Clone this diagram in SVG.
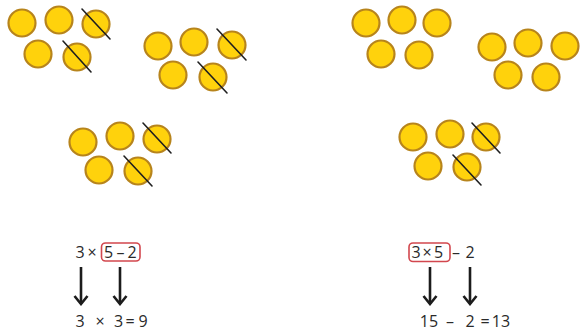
<svg xmlns="http://www.w3.org/2000/svg" width="586" height="334" viewBox="0 0 586 334">
<style>
.coin{fill:#FFD20C;stroke:#B7841C;stroke-width:2.2}
.cross{stroke:#1f1f1f;stroke-width:1.6;stroke-linecap:round}
.t{font-family:"Open Sans","Liberation Sans",sans-serif;font-size:16px;fill:#2a2a2a;text-anchor:middle}
.box{fill:none;stroke:#D2474E;stroke-width:1.6}
.arrow{stroke:#1c1c1c;stroke-width:2.6;fill:none;marker-end:url(#head)}
</style>
<defs>
<marker id="head" markerUnits="userSpaceOnUse" viewBox="-10 -8 12 16" refX="0" refY="0" markerWidth="12" markerHeight="16" orient="auto">
<path d="M-8,-6.5 L0,0 L-8,6.5" fill="none" stroke="#1c1c1c" stroke-width="2.6" stroke-linejoin="miter"/>
</marker>
</defs>
<rect width="586" height="334" fill="#ffffff"/>

<g id="group1">
<circle class="coin" cx="22" cy="23" r="13.5"/>
<circle class="coin" cx="59" cy="20" r="13.5"/>
<circle class="coin" cx="96" cy="24" r="13.5"/>
<circle class="coin" cx="38" cy="54" r="13.5"/>
<circle class="coin" cx="77" cy="57" r="13.5"/>
<line class="cross" x1="82" y1="9" x2="110" y2="39"/>
<line class="cross" x1="63" y1="41" x2="91" y2="72"/>
</g>
<g id="group2">
<circle class="coin" cx="158" cy="46" r="13.5"/>
<circle class="coin" cx="194" cy="42" r="13.5"/>
<circle class="coin" cx="232" cy="45" r="13.5"/>
<circle class="coin" cx="173" cy="75" r="13.5"/>
<circle class="coin" cx="213" cy="77" r="13.5"/>
<line class="cross" x1="217" y1="29" x2="246" y2="60"/>
<line class="cross" x1="198" y1="62" x2="227" y2="93"/>
</g>
<g id="group3">
<circle class="coin" cx="83" cy="142" r="13.5"/>
<circle class="coin" cx="120" cy="136" r="13.5"/>
<circle class="coin" cx="157" cy="139" r="13.5"/>
<circle class="coin" cx="99" cy="170" r="13.5"/>
<circle class="coin" cx="138" cy="171" r="13.5"/>
<line class="cross" x1="143" y1="123" x2="171" y2="153"/>
<line class="cross" x1="124" y1="156" x2="152" y2="186"/>
</g>
<g id="group4">
<circle class="coin" cx="366" cy="23" r="13.5"/>
<circle class="coin" cx="402" cy="20" r="13.5"/>
<circle class="coin" cx="437" cy="23" r="13.5"/>
<circle class="coin" cx="381" cy="54" r="13.5"/>
<circle class="coin" cx="419" cy="55" r="13.5"/>
</g>
<g id="group5">
<circle class="coin" cx="492" cy="47" r="13.5"/>
<circle class="coin" cx="528" cy="43" r="13.5"/>
<circle class="coin" cx="565" cy="46" r="13.5"/>
<circle class="coin" cx="508" cy="75" r="13.5"/>
<circle class="coin" cx="546" cy="77" r="13.5"/>
</g>
<g id="group6">
<circle class="coin" cx="413" cy="137" r="13.5"/>
<circle class="coin" cx="450" cy="134" r="13.5"/>
<circle class="coin" cx="486" cy="137" r="13.5"/>
<circle class="coin" cx="428" cy="166" r="13.5"/>
<circle class="coin" cx="467" cy="167" r="13.5"/>
<line class="cross" x1="472" y1="123" x2="500" y2="153"/>
<line class="cross" x1="453" y1="155" x2="481" y2="185"/>
</g>

<g id="expr-left">
<rect class="box" x="101.5" y="243" width="38.5" height="18" rx="4"/>
<text class="t" y="258"><tspan x="80">3</tspan><tspan x="92">×</tspan><tspan x="108.5">5</tspan><tspan x="120.5">–</tspan><tspan x="132">2</tspan></text>
</g>
<g id="result-left">
<text class="t" y="327"><tspan x="80">3</tspan><tspan x="100">×</tspan><tspan x="118.5">3</tspan><tspan x="130">=</tspan><tspan x="143">9</tspan></text>
</g>
<g id="expr-right">
<rect class="box" x="409" y="243" width="41" height="18.5" rx="4"/>
<text class="t" y="258"><tspan x="416">3</tspan><tspan x="427">×</tspan><tspan x="438.5">5</tspan><tspan x="456">–</tspan><tspan x="470">2</tspan></text>
</g>
<g id="result-right">
<text class="t" y="327"><tspan x="429">15</tspan><tspan x="450">–</tspan><tspan x="470">2</tspan><tspan x="485">=</tspan><tspan x="501">13</tspan></text>
</g>

<g id="connectors">
<line class="arrow" x1="81" y1="267" x2="81" y2="304"/>
<line class="arrow" x1="120" y1="267" x2="120" y2="304"/>
<line class="arrow" x1="430" y1="267" x2="430" y2="304"/>
<line class="arrow" x1="470" y1="267" x2="470" y2="304"/>
</g>
</svg>
